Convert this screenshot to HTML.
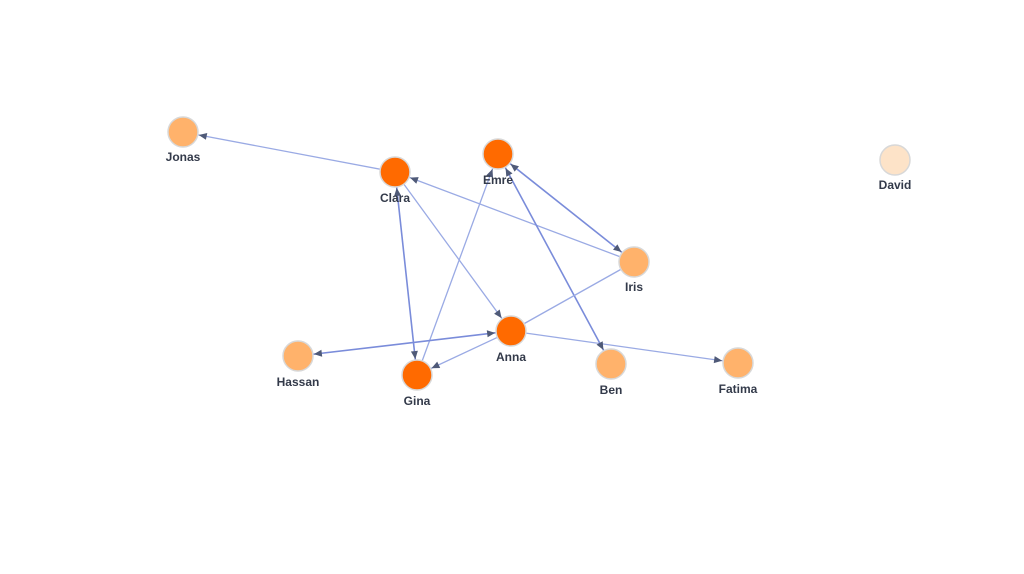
<!DOCTYPE html>
<html><head><meta charset="utf-8"><style>
html,body{margin:0;padding:0;background:#fff;}
svg{display:block;}
text{font-family:"Liberation Sans",sans-serif;font-size:12px;font-weight:bold;fill:#333a4a;text-anchor:middle;}
</style></head><body>
<svg width="1024" height="574" viewBox="0 0 1024 574">
<g stroke="#9aaae4" stroke-width="1.3" fill="none">
<line x1="395" y1="172" x2="183" y2="132"/>
<line x1="634" y1="262" x2="395" y2="172"/>
<line x1="395" y1="172" x2="511" y2="331"/>
<line x1="395" y1="172" x2="417" y2="375" stroke="#7a8cda" stroke-width="1.6"/>
<line x1="417" y1="375" x2="498" y2="154"/>
<line x1="634" y1="262" x2="498" y2="154" stroke="#7a8cda" stroke-width="1.6"/>
<line x1="611" y1="364" x2="498" y2="154" stroke="#7a8cda" stroke-width="1.6"/>
<line x1="511" y1="331" x2="417" y2="375"/>
<line x1="511" y1="331" x2="298" y2="356" stroke="#7a8cda" stroke-width="1.6"/>
<line x1="511" y1="331" x2="738" y2="363"/>
<line x1="511" y1="331" x2="634" y2="262"/>
</g>
<g fill="#4f5a78">
<polygon points="198.7,135.0 205.9,139.8 207.3,133.0"/>
<polygon points="410.0,177.6 416.3,183.7 418.7,177.1"/>
<polygon points="501.6,318.1 499.7,309.5 494.1,313.7"/>
<polygon points="415.3,359.1 417.9,350.7 410.9,351.5"/>
<polygon points="396.7,187.9 394.1,196.3 401.1,195.5"/>
<polygon points="492.5,169.0 486.4,175.3 493.0,177.7"/>
<polygon points="510.5,164.0 514.6,171.6 519.0,166.2"/>
<polygon points="621.5,252.0 617.4,244.4 613.0,249.8"/>
<polygon points="505.6,168.1 506.3,176.8 512.5,173.4"/>
<polygon points="603.4,349.9 602.7,341.2 596.5,344.6"/>
<polygon points="431.5,368.2 440.2,368.0 437.2,361.6"/>
<polygon points="313.9,354.1 322.2,356.7 321.4,349.7"/>
<polygon points="495.1,332.9 486.8,330.3 487.6,337.3"/>
<polygon points="722.2,360.8 714.7,356.1 713.7,363.1"/>
</g>
<g stroke="#d8d8d8" stroke-width="1.5">
<circle cx="183" cy="132" r="15" fill="#ffb26b"/>
<circle cx="395" cy="172" r="15" fill="#ff6a00"/>
<circle cx="498" cy="154" r="15" fill="#ff6a00"/>
<circle cx="895" cy="160" r="15" fill="#fde3c8"/>
<circle cx="634" cy="262" r="15" fill="#ffb26b"/>
<circle cx="511" cy="331" r="15" fill="#ff6a00"/>
<circle cx="298" cy="356" r="15" fill="#ffb26b"/>
<circle cx="417" cy="375" r="15" fill="#ff6a00"/>
<circle cx="611" cy="364" r="15" fill="#ffb26b"/>
<circle cx="738" cy="363" r="15" fill="#ffb26b"/>
</g>
<text x="183" y="161">Jonas</text>
<text x="395" y="202">Clara</text>
<text x="498" y="184">Emre</text>
<text x="895" y="189">David</text>
<text x="634" y="291">Iris</text>
<text x="511" y="361">Anna</text>
<text x="298" y="386">Hassan</text>
<text x="417" y="405">Gina</text>
<text x="611" y="394">Ben</text>
<text x="738" y="393">Fatima</text>
</svg>
</body></html>
